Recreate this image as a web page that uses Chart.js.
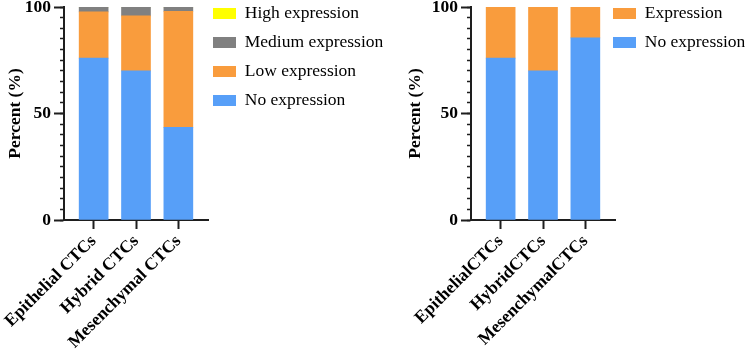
<!DOCTYPE html>
<html>
<head>
<meta charset="utf-8">
<script src="https://cdn.jsdelivr.net/npm/chart.js@4.4.0/dist/chart.umd.min.js"></script>
<style>
  body { margin: 0; background: #fff; width: 750px; height: 349px; position: relative; overflow: hidden; }
  .box { position: absolute; top: 0; height: 349px; }
  #left { left: 0; width: 390px; }
  #right { left: 400px; width: 350px; }
</style>
</head>
<body>
<div class="box" id="left"><canvas id="c1"></canvas></div>
<div class="box" id="right"><canvas id="c2"></canvas></div>
<script>
// data
const groups = ['Epithelial CTCs', 'Hybrid CTCs', 'Mesenchymal CTCs'];
const groupsRight = ['EpithelialCTCs', 'HybridCTCs', 'MesenchymalCTCs'];
const noExpr = [76, 70, 43.5];
const lowExpr = [21.7, 25.8, 54.5];
const medExpr = [2.3, 4.2, 2];
const highExpr = [0, 0, 0];
const noExprRight = [76, 70, 85.5];
const exprRight = [24, 30, 14.5];
const majorTicks = [0, 50, 100];

const BLUE = '#579ff8', ORANGE = '#f99c3d', GRAY = '#808080', YELLOW = '#ffff00';
const AXIS = '#1e1e1e';
const FONT = '"Liberation Serif", "Times New Roman", serif';

Chart.defaults.font.family = FONT;
Chart.defaults.color = '#000';

const H = 349;
const AREA_TOP = 7, AREA_BOTTOM = 220;
const LEG_PAD = 11.5;

function bar(label, data, color) {
  return { label, data, backgroundColor: color, borderWidth: 0, barThickness: 29 };
}

function build(id, names, datasets, axisX, areaRight) {
  const canvas = document.getElementById(id);
  const W = canvas.parentNode.clientWidth;
  return new Chart(canvas, {
    type: 'bar',
    data: { labels: names.map((n, i) => i), datasets },
    options: {
      responsive: true,
      maintainAspectRatio: false,
      animation: false,
      layout: { padding: { top: AREA_TOP, bottom: 0, left: 0, right: 0 } },
      plugins: {
        tooltip: { enabled: false },
        legend: {
          position: 'right',
          align: 'start',
          reverse: true,
          maxWidth: W - areaRight,
          labels: { boxWidth: 23, boxHeight: 11, padding: LEG_PAD, color: '#000', font: { size: 17.5 } }
        }
      },
      scales: {
        x: {
          type: 'linear',
          min: -0.7,
          max: 2.7,
          offset: false,
          stacked: true,
          afterBuildTicks: s => { s.ticks = names.map((n, i) => ({ value: i })); },
          afterFit: s => { s.height = H - AREA_BOTTOM; s.paddingLeft = 0; s.paddingRight = 0; },
          ticks: {
            autoSkip: false,
            minRotation: 45,
            maxRotation: 45,
            padding: 2,
            callback: v => names[v],
            font: { size: 17.5, weight: 'bold' }
          },
          grid: { offset: false, drawOnChartArea: false, tickLength: 9, tickWidth: 2, tickColor: AXIS },
          border: { width: 2, color: AXIS }
        },
        y: {
          position: 'left',
          weight: 1,
          stacked: true,
          min: 0,
          max: 100,
          afterBuildTicks: s => { s.ticks = majorTicks.map(v => ({ value: v })); },
          afterFit: s => { s.width = axisX; s.paddingTop = 0; s.paddingBottom = 0; },
          ticks: { padding: 3, font: { size: 17.5, weight: 'bold' } },
          grid: { drawOnChartArea: false, tickLength: 10, tickWidth: 2, tickColor: AXIS },
          border: { width: 2, color: AXIS },
          title: { display: true, text: 'Percent (%)', padding: { top: 5, bottom: 4 }, font: { size: 17.5, weight: 'bold' } }
        },
        yMinor: {
          position: 'left',
          weight: 0,
          min: 0,
          max: 100,
          ticks: { display: false, stepSize: 5 },
          afterFit: s => { s.width = 0; s.paddingTop = 0; s.paddingBottom = 0; },
          grid: { drawOnChartArea: false, tickLength: 4, tickWidth: 1.5, tickColor: AXIS },
          border: { display: false }
        }
      }
    },
    plugins: [{
      id: 'legendSpot',
      afterLayout(chart) {
        // legend sits a little over the axis end, near the top, as in the figure
        chart.legend.left = 213 - LEG_PAD;
        chart.legend.top = 13.5 - LEG_PAD - 17.5 / 2;
        chart.legend.right = W;
      }
    }]
  });
}

build('c1', groups, [
  bar('No expression', noExpr, BLUE),
  bar('Low expression', lowExpr, ORANGE),
  bar('Medium expression', medExpr, GRAY),
  bar('High expression', highExpr, YELLOW)
], 64, 208);

build('c2', groupsRight, [
  bar('No expression', noExprRight, BLUE),
  bar('Expression', exprRight, ORANGE)
], 71, 215);
</script>
</body>
</html>
